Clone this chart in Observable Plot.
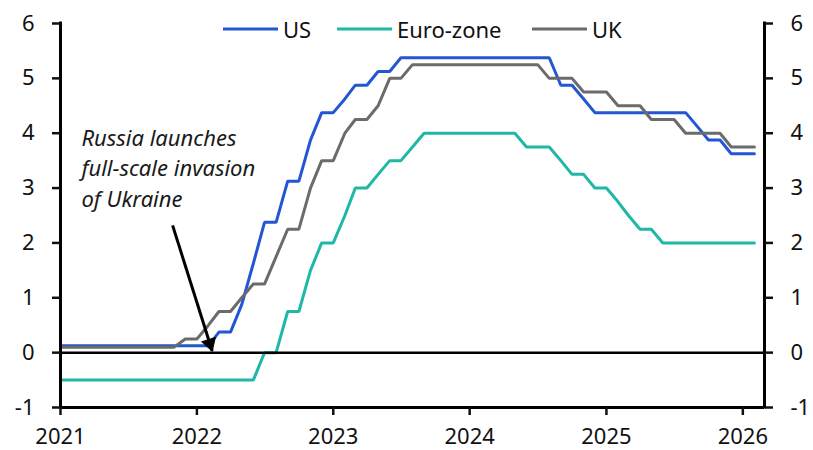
<!DOCTYPE html>
<html><head><meta charset="utf-8">
<script src="https://cdn.jsdelivr.net/npm/d3@7"></script>
<script src="https://cdn.jsdelivr.net/npm/@observablehq/plot@0.6"></script>
<style>
body{margin:0;background:#fff;}
#wrap{position:relative;width:813px;height:450px;}
.legend{position:absolute;top:0;left:0;font:22px "Noto Sans",sans-serif;color:#111;}
.legend .item{position:absolute;top:15px;display:flex;align-items:center;height:28px;white-space:nowrap;}
.legend svg{margin-right:5px;}
</style></head><body><div id="wrap"></div>
<script>
// Monthly policy rates (%), Jan 2021 – Feb 2026, month-end values
const startMonth = "2021-01-01";
const endMonth = "2026-02-01";
const xDomain = ["2021-01-01", "2026-02-28"];
const yDomain = [-1, 6];
const yTicks = [-1, 0, 1, 2, 3, 4, 5, 6];
const yearTicks = ["2021-01-01","2022-01-01","2023-01-01","2024-01-01","2025-01-01","2026-01-01"];
const seriesNames = ["US", "Euro-zone", "UK"];
const seriesColors = ["#2356d2", "#1fb7a6", "#6b6b6b"];

const usRates = [
  0.125,0.125,0.125,0.125,0.125,0.125,0.125,0.125,0.125,0.125,0.125,0.125,
  0.125,0.125,0.375,0.375,0.875,1.625,2.375,2.375,3.125,3.125,3.875,4.375,
  4.375,4.625,4.875,4.875,5.125,5.125,5.375,5.375,5.375,5.375,5.375,5.375,
  5.375,5.375,5.375,5.375,5.375,5.375,5.375,5.375,4.875,4.875,4.625,4.375,
  4.375,4.375,4.375,4.375,4.375,4.375,4.375,4.375,4.125,3.875,3.875,3.625,
  3.625,3.625
];
const euroRates = [
  -0.5,-0.5,-0.5,-0.5,-0.5,-0.5,-0.5,-0.5,-0.5,-0.5,-0.5,-0.5,
  -0.5,-0.5,-0.5,-0.5,-0.5,-0.5,0,0,0.75,0.75,1.5,2.0,
  2.0,2.5,3.0,3.0,3.25,3.5,3.5,3.75,4.0,4.0,4.0,4.0,
  4.0,4.0,4.0,4.0,4.0,3.75,3.75,3.75,3.5,3.25,3.25,3.0,
  3.0,2.75,2.5,2.25,2.25,2.0,2.0,2.0,2.0,2.0,2.0,2.0,
  2.0,2.0
];
const ukRates = [
  0.1,0.1,0.1,0.1,0.1,0.1,0.1,0.1,0.1,0.1,0.1,0.25,
  0.25,0.5,0.75,0.75,1.0,1.25,1.25,1.75,2.25,2.25,3.0,3.5,
  3.5,4.0,4.25,4.25,4.5,5.0,5.0,5.25,5.25,5.25,5.25,5.25,
  5.25,5.25,5.25,5.25,5.25,5.25,5.25,5.0,5.0,5.0,4.75,4.75,
  4.75,4.5,4.5,4.5,4.25,4.25,4.25,4.0,4.0,4.0,4.0,3.75,
  3.75,3.75
];

const annotationText = ["Russia launches\nfull-scale invasion\nof Ukraine"];
const annotationPos = {date: "2021-02-26", value: 3.39};
const arrowFrom = {date: "2021-10-28", value: 2.32};
const arrowTo = {date: "2022-02-11", value: 0.03};

const parse = d3.utcParse("%Y-%m-%d");
const months = d3.utcMonth.range(parse(startMonth), d3.utcMonth.offset(parse(endMonth), 1));
const allSeries = [usRates, euroRates, ukRates];
const data = allSeries.flatMap((vals, i) => vals.map((v, j) => ({date: months[j], value: v, series: seriesNames[i]})));

const xd = xDomain.map(parse);
const tip = {date: parse(arrowTo.date), value: arrowTo.value};
const fmtY = d => String(d);

const axisStyle = {tickSize: 8, strokeWidth: 2.5};
const chart = Plot.plot({
  width: 813, height: 450,
  marginLeft: 60, marginRight: 49, marginTop: 23, marginBottom: 43,
  style: {fontFamily: "'Noto Sans', sans-serif", fontSize: "22px", color: "#111", background: "#fff"},
  x: {type: "utc", domain: xd},
  y: {domain: yDomain},
  color: {domain: seriesNames, range: seriesColors},
  marks: [
    Plot.line(data, {x: "date", y: "value", z: "series", stroke: "series", strokeWidth: 3, strokeLinejoin: "miter"}),
    Plot.ruleY([0], {stroke: "#000", strokeWidth: 2.5}),
    Plot.ruleX([xd[0]], {stroke: "#000", strokeWidth: 3, strokeLinecap: "square"}),
    Plot.ruleX([xd[1]], {stroke: "#000", strokeWidth: 3, strokeLinecap: "square"}),
    Plot.ruleY([yDomain[0]], {stroke: "#000", strokeWidth: 3}),
    Plot.axisY({anchor: "left", ticks: yTicks, tickFormat: fmtY, tickPadding: 18, label: null, ...axisStyle}),
    Plot.axisY({anchor: "right", ticks: yTicks, tickFormat: fmtY, tickPadding: 18, label: null, ...axisStyle}),
    Plot.axisX({ticks: yearTicks.map(parse), tickFormat: "%Y", tickPadding: 13, label: null, ...axisStyle}),
    Plot.text(annotationText, {x: () => parse(annotationPos.date), y: () => annotationPos.value, text: d => d, textAnchor: "start", lineAnchor: "middle", lineHeight: 1.38, fontStyle: "italic", fill: "#1a1a1a"}),
    Plot.link([0], {x1: () => parse(arrowFrom.date), y1: () => arrowFrom.value, x2: () => tip.date, y2: () => tip.value, stroke: "#000", strokeWidth: 3}),
    Plot.dot([tip], {x: "date", y: "value", symbol: "triangle", r: 5.2, rotate: 162.6, dx: -2.4, dy: -7.6, fill: "#000", stroke: "#000", strokeWidth: 1, strokeLinejoin: "miter"})
  ]
});
const wrap = document.getElementById("wrap");
wrap.appendChild(chart);

// Legend
const legendLeft = [223, 337, 532];
const legend = document.createElement("div");
legend.className = "legend";
seriesNames.forEach((name, i) => {
  const item = document.createElement("div");
  item.className = "item";
  item.style.left = legendLeft[i] + "px";
  item.innerHTML = `<svg width="55" height="6"><line x1="0" x2="55" y1="3" y2="3" stroke="${seriesColors[i]}" stroke-width="3"/></svg><span>${name}</span>`;
  legend.appendChild(item);
});
wrap.appendChild(legend);
</script></body></html>
